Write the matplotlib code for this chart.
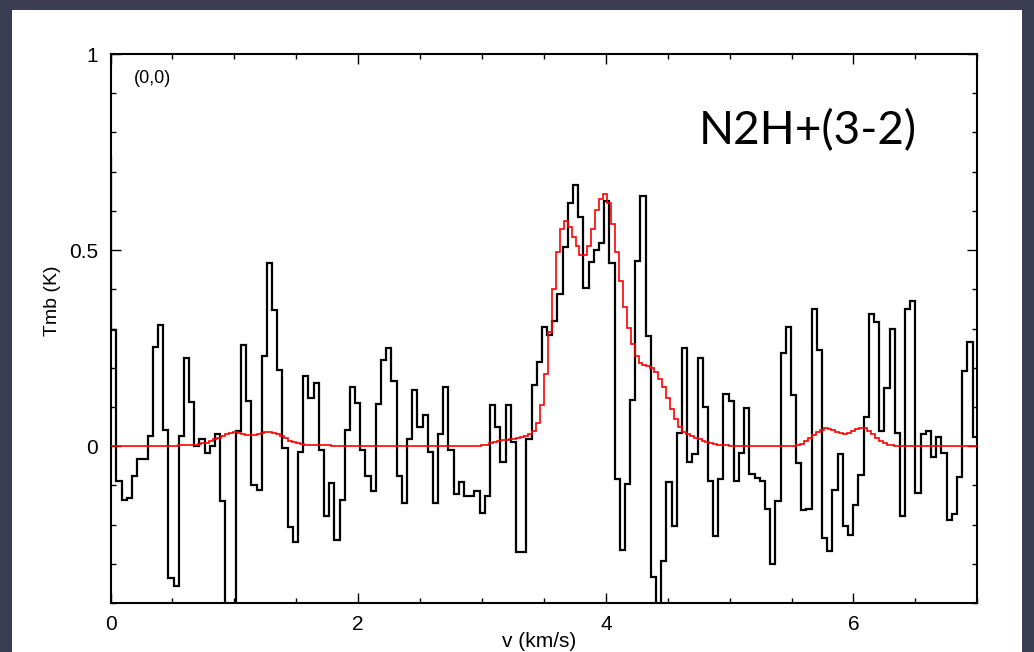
import numpy as np
import matplotlib.pyplot as plt
from matplotlib.patches import Rectangle

# observed N2H+(3-2) spectrum at offset (0,0): first channel edge, channel width (km/s), Tmb (K)
obs_v0 = -0.0359
obs_dv = 0.0419
obs_tmb = [
    0.735, 0.295, -0.090, -0.137, -0.131, -0.075, -0.032, -0.032, 0.026, 0.252,
    0.310, 0.041, -0.336, -0.357, 0.026, 0.226, 0.113, 0.000, 0.017, -0.017,
    0.000, 0.030, -0.141, -0.500, -0.550, 0.038, 0.259, 0.115, -0.098, -0.111,
    0.230, 0.466, 0.348, 0.195, -0.004, -0.207, -0.245, -0.015, 0.179, 0.124,
    0.162, -0.010, -0.179, -0.094, -0.239, -0.138, 0.041, 0.150, 0.110, -0.011,
    -0.077, -0.114, 0.107, 0.220, 0.250, 0.167, -0.077, -0.145, 0.019, 0.143,
    0.050, 0.079, -0.015, -0.145, 0.032, 0.151, -0.011, -0.122, -0.091, -0.127,
    -0.128, -0.114, -0.170, -0.128, 0.104, 0.049, -0.040, 0.104, 0.010, -0.269,
    -0.269, 0.017, 0.156, 0.214, 0.305, 0.284, 0.318, 0.387, 0.507, 0.620,
    0.667, 0.585, 0.404, 0.470, 0.500, 0.519, 0.626, 0.466, -0.084, -0.265,
    -0.097, 0.117, 0.473, 0.637, 0.280, -0.333, -0.450, -0.293, -0.092, -0.203,
    0.034, 0.250, -0.040, -0.020, 0.226, 0.100, -0.090, -0.228, -0.083, 0.134,
    0.115, -0.090, -0.017, 0.096, -0.071, -0.081, -0.090, -0.161, -0.301, -0.139,
    0.237, 0.303, 0.131, -0.043, -0.162, -0.161, 0.349, 0.246, -0.235, -0.267,
    -0.113, -0.020, -0.203, -0.226, -0.150, -0.074, 0.074, 0.338, 0.316, 0.038,
    0.148, 0.299, 0.034, -0.179, 0.350, 0.370, -0.120, 0.032, 0.038, -0.027,
    0.024, -0.017, -0.188, -0.173, -0.079, 0.191, 0.265, 0.023,
]

# model spectrum, finer channels
mod_v0 = 0.003
mod_dv = 0.0318
mod_tmb = [
    0, 0, 0, 0, 0, 0, 0, 0, 0, 0, 0, 0, 0, 0, 0, 0, 0,
    0.002, 0.002, 0.003, 0.003, 0.004,
    0.005, 0.007, 0.009, 0.012, 0.017, 0.022, 0.027, 0.031, 0.034, 0.035,
    0.034, 0.031, 0.029, 0.028, 0.029, 0.031, 0.033, 0.035, 0.035, 0.034,
    0.031, 0.026, 0.020, 0.014, 0.010, 0.007, 0.005, 0.004,
    0.003, 0.003, 0.002, 0.002, 0.002, 0.002, 0.001, 0.001, 0.001, 0.001, 0.001,
    0, 0, 0, 0, 0, 0, 0, 0, 0, 0, 0, 0, 0, 0, 0, 0, 0,
    0, 0, 0, 0, 0, 0, 0, 0, 0, 0, 0, 0, 0, 0, 0, 0,
    0.002, 0.004, 0.007, 0.010, 0.013, 0.015, 0.016, 0.017, 0.018, 0.020,
    0.023, 0.027, 0.032,
    0.038, 0.059, 0.105, 0.184, 0.290, 0.402, 0.496, 0.553, 0.575, 0.560,
    0.534, 0.510, 0.487, 0.487, 0.510, 0.555, 0.602, 0.630, 0.642, 0.620,
    0.567, 0.496, 0.422, 0.356, 0.302, 0.261, 0.230, 0.212, 0.207, 0.204,
    0.200, 0.190, 0.172, 0.150,
    0.122, 0.094, 0.068, 0.048, 0.036, 0.030, 0.025, 0.021, 0.017, 0.013,
    0.010, 0.008, 0.006, 0.004, 0.003, 0.002, 0.001,
    0, 0, 0, 0, 0, 0, 0, 0, 0, 0, 0, 0, 0, 0, 0, 0,
    0.002, 0.006, 0.012, 0.020, 0.028, 0.036, 0.042, 0.045, 0.044, 0.040,
    0.036, 0.033, 0.032, 0.034, 0.038, 0.043, 0.046, 0.045, 0.039, 0.030,
    0.021, 0.013, 0.008, 0.004, 0.002, 0.001,
    0, 0, 0, 0, 0, 0, 0, 0, 0, 0, 0, 0, 0, 0, 0, 0, 0, 0, 0, 0,
]

obs_edges = obs_v0 + obs_dv * np.arange(len(obs_tmb) + 1)
mod_edges = mod_v0 + mod_dv * np.arange(len(mod_tmb) + 1)

label_family = ['Liberation Sans', 'DejaVu Sans']

fig = plt.figure(figsize=(10.34, 6.52), dpi=100, facecolor='#3b3d53')
# white slide panel behind the plot
fig.patches.append(Rectangle((12 / 1034, 0), 1010 / 1034, 642 / 652,
                             transform=fig.transFigure, facecolor='white',
                             edgecolor='none', zorder=-10))

ax = fig.add_axes([110.5 / 1034, 1 - 603 / 652, 866.8 / 1034, 549 / 652])
ax.set_zorder(5)
ax.stairs(obs_tmb, obs_edges, baseline=None, color='black', lw=1.6, zorder=3)
ax.stairs(mod_tmb, mod_edges, baseline=None, color='#ff0000', lw=1.2, zorder=4)

ax.set_xlim(0, 7)
ax.set_ylim(-0.4, 1)
ax.set_xticks([0, 2, 4, 6])
ax.set_xticks(np.arange(0, 7.01, 0.5), minor=True)
ax.set_yticks([0, 0.5, 1])
ax.set_yticklabels(['0', '0.5', '1'])
ax.set_yticks(np.arange(-0.4, 1.001, 0.1), minor=True)
ax.tick_params(which='both', direction='in', top=True, right=True, width=1.0)
ax.tick_params(which='major', length=7, pad=9, labelsize=15)
ax.tick_params(which='minor', length=3.5)
for lab in ax.get_xticklabels() + ax.get_yticklabels():
    lab.set_family(label_family)
for s in ax.spines.values():
    s.set_linewidth(1.5)

ax.set_xlabel('v (km/s)', fontsize=15, family=label_family)
ax.xaxis.set_label_coords(0.495, -0.052)
ax.set_ylabel('Tmb (K)', fontsize=14, family=label_family)
ax.yaxis.set_label_coords(-0.057, 0.55)

ax.text(0.027, 0.955, '(0,0)', transform=ax.transAxes, fontsize=13,
        va='center', ha='left', family=label_family)
ax.text(0.805, 0.86, 'N2H+(3-2)', transform=ax.transAxes, fontsize=33,
        family='Lato', ha='center', va='center')

fig.savefig('out.png', dpi=100, facecolor=fig.get_facecolor())
